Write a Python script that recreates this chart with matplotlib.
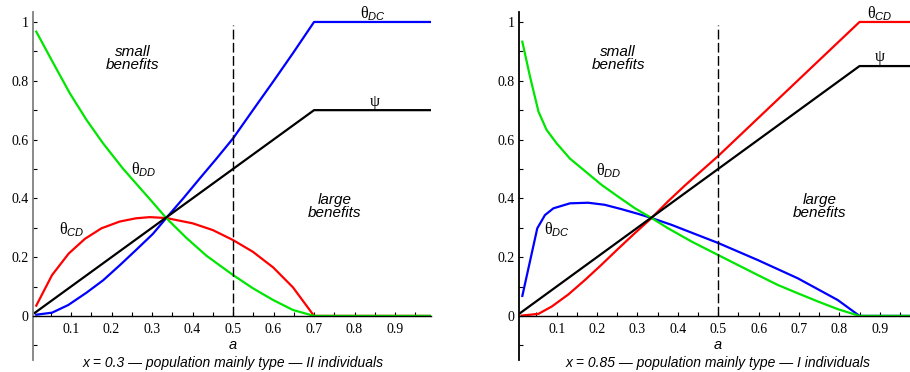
import matplotlib
matplotlib.use("Agg")
from matplotlib import pyplot as plt
from matplotlib.ticker import MultipleLocator, FixedLocator, FixedFormatter
from matplotlib.transforms import blended_transform_factory

plt.rcParams['mathtext.fontset'] = 'custom'
plt.rcParams['mathtext.rm'] = 'Liberation Serif'
plt.rcParams['mathtext.it'] = 'Liberation Sans:italic'

# Left panel, x = 0.3
a_cd_l = [0.014, 0.053, 0.094, 0.134, 0.175, 0.22, 0.26, 0.294, 0.335, 0.40, 0.45,
          0.5, 0.549, 0.599, 0.648, 0.7, 0.99]
cd_l = [0.035, 0.139, 0.212, 0.262, 0.298, 0.321, 0.332, 0.336, 0.333, 0.315, 0.292,
        0.258, 0.218, 0.165, 0.097, 0.0, 0.0]
a_dd_l = [0.014, 0.056, 0.097, 0.138, 0.179, 0.227, 0.253, 0.294, 0.335, 0.385, 0.434,
          0.5, 0.549, 0.599, 0.648, 0.7, 0.99]
dd_l = [0.967, 0.86, 0.757, 0.667, 0.587, 0.503, 0.462, 0.398, 0.333, 0.265, 0.205,
        0.139, 0.094, 0.054, 0.02, 0.0, 0.0]
a_dc_l = [0.014, 0.053, 0.093, 0.138, 0.179, 0.22, 0.261, 0.302, 0.335, 0.377, 0.418,
          0.459, 0.5, 0.549, 0.599, 0.648, 0.7, 0.99]
dc_l = [0.004, 0.011, 0.037, 0.079, 0.121, 0.172, 0.225, 0.279, 0.333, 0.40, 0.468,
        0.535, 0.604, 0.70, 0.797, 0.894, 1.0, 1.0]
a_psi_l = [0.01, 0.7, 0.99]
psi_l = [0.01, 0.7, 0.7]

# Right panel, x = 0.85
a_cd_r = [0.013, 0.055, 0.088, 0.129, 0.17, 0.211, 0.252, 0.294, 0.335, 0.376, 0.417,
          0.5, 0.85, 0.975]
cd_r = [0.001, 0.007, 0.032, 0.073, 0.122, 0.174, 0.228, 0.282, 0.333, 0.39, 0.443,
        0.544, 1.0, 1.0]
a_dd_r = [0.015, 0.034, 0.055, 0.075, 0.10, 0.133, 0.162, 0.211, 0.252, 0.294, 0.335,
          0.376, 0.434, 0.5, 0.549, 0.598, 0.648, 0.697, 0.747, 0.796, 0.85, 0.975]
dd_r = [0.933, 0.814, 0.695, 0.633, 0.587, 0.535, 0.502, 0.446, 0.406, 0.366, 0.333,
        0.298, 0.253, 0.207, 0.173, 0.139, 0.105, 0.077, 0.049, 0.023, 0.0, 0.0]
a_dc_r = [0.015, 0.052, 0.071, 0.092, 0.133, 0.178, 0.219, 0.261, 0.302, 0.335, 0.384,
          0.442, 0.5, 0.598, 0.697, 0.796, 0.85, 0.975]
dc_r = [0.068, 0.298, 0.343, 0.366, 0.383, 0.385, 0.378, 0.363, 0.347, 0.333, 0.31,
        0.279, 0.248, 0.19, 0.128, 0.054, 0.0, 0.0]
a_psi_r = [0.01, 0.85, 0.975]
psi_r = [0.01, 0.85, 0.85]

xticks = [0.1, 0.2, 0.3, 0.4, 0.5, 0.6, 0.7, 0.8, 0.9]
yticks = [0, 0.2, 0.4, 0.6, 0.8, 1]
ytick_labels = ['0', '0.2', '0.4', '0.6', '0.8', '1']

GREEN, BLUE, RED = '#00e600', '#0000ff', '#ff0000'
serif = 'Liberation Serif'
sans = 'Liberation Sans'


def style_axes(ax, xmax, spine_color):
    ax.set_xlim(0.006, xmax)
    ax.set_ylim(-0.15, 1.034)
    ax.spines['top'].set_visible(False)
    ax.spines['right'].set_visible(False)
    ax.spines['bottom'].set_position(('data', 0))
    ax.spines['left'].set_color(spine_color)
    ax.spines['left'].set_linewidth(1.3)
    ax.spines['bottom'].set_linewidth(1.0)
    ax.xaxis.set_major_locator(FixedLocator(xticks))
    ax.xaxis.set_minor_locator(MultipleLocator(0.05))
    ax.yaxis.set_major_locator(FixedLocator(yticks))
    ax.yaxis.set_major_formatter(FixedFormatter(ytick_labels))
    ax.yaxis.set_minor_locator(FixedLocator([-0.1, 0.1, 0.3, 0.5, 0.7, 0.9]))
    ax.tick_params(axis='both', which='both', direction='in', length=3, width=0.8)
    ax.tick_params(axis='x', pad=5)
    ax.tick_params(axis='y', pad=3)
    for lab in ax.get_xticklabels() + ax.get_yticklabels():
        lab.set_fontfamily(serif)
        lab.set_fontsize(10)


def draw_panel(ax, curves, psi, labels, caption, xmax, spine_color):
    for a, v, c in curves:
        ax.plot(a, v, color=c, lw=1.6)
    ax.plot(psi[0], psi[1], color='black', lw=1.6)
    ax.plot([0.5, 0.5], [0, 0.99], color='black', lw=1.0, dashes=(7, 2.5))
    style_axes(ax, xmax, spine_color)
    for x, y, s in labels:
        ax.text(x, y, s, ha='center', va='center', fontsize=11.5)
    ax.text(0.252, 0.876, 'small\nbenefits', ha='center', va='center', fontsize=11,
            style='italic', family=sans, linespacing=0.95)
    ax.text(0.751, 0.372, 'large\nbenefits', ha='center', va='center', fontsize=11,
            style='italic', family=sans, linespacing=0.95)
    trans = blended_transform_factory(ax.transData, ax.transAxes)
    ax.text(0.5, 0.043, 'a', transform=trans, ha='center', va='center', fontsize=10.5,
            style='italic', family=sans)
    ax.text(0.5, -0.008, caption, transform=trans, ha='center', va='center',
            fontsize=10, style='italic', family=sans)


fig = plt.figure(figsize=(9.1, 3.72), dpi=100)
ax1 = fig.add_axes([0.0363, 0.0323, 0.4374, 0.9355])
ax2 = fig.add_axes([0.570, 0.0323, 0.430, 0.9355])

draw_panel(ax1,
           [(a_cd_l, cd_l, RED), (a_dc_l, dc_l, BLUE), (a_dd_l, dd_l, GREEN)],
           (a_psi_l, psi_l),
           [(0.846, 1.03, r'$\mathrm{θ}_{DC}$'), (0.85, 0.725, r'$\mathrm{ψ}$'),
            (0.279, 0.497, r'$\mathrm{θ}_{DD}$'), (0.102, 0.295, r'$\mathrm{θ}_{CD}$')],
           'x = 0.3 — population mainly type — II individuals', 0.989, '#808080')

draw_panel(ax2,
           [(a_dc_r, dc_r, BLUE), (a_cd_r, cd_r, RED), (a_dd_r, dd_r, GREEN)],
           (a_psi_r, psi_r),
           [(0.90, 1.028, r'$\mathrm{θ}_{CD}$'), (0.901, 0.879, r'$\mathrm{ψ}$'),
            (0.229, 0.494, r'$\mathrm{θ}_{DD}$'), (0.101, 0.292, r'$\mathrm{θ}_{DC}$')],
           'x = 0.85 — population mainly type — I individuals', 0.975, 'black')

fig.savefig('out.png', dpi=100)
